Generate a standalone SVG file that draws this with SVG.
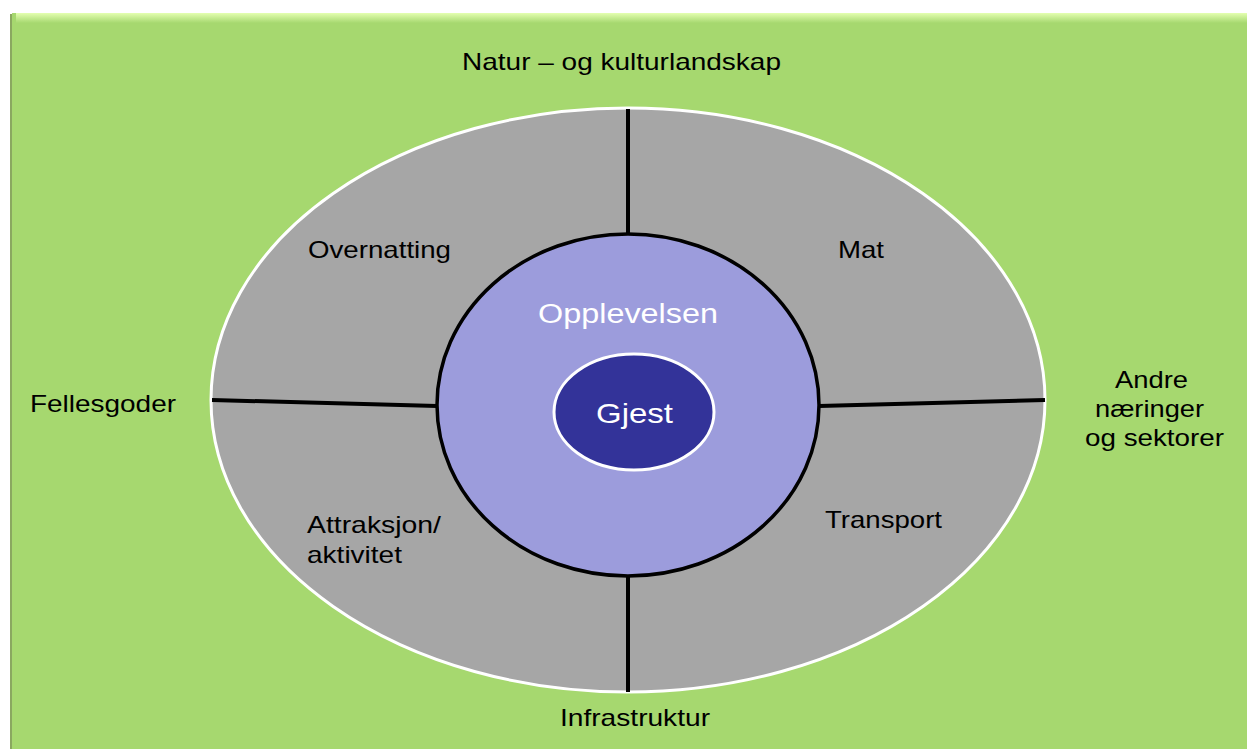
<svg xmlns="http://www.w3.org/2000/svg" width="1247" height="749" viewBox="0 0 1247 749">
<style>
.t{font-family:"Liberation Sans",Arial,sans-serif;font-size:24px;fill:#000}
.c{text-anchor:middle}
.w{fill:#fff}
.ln{stroke:#000;stroke-width:4;fill:none}
</style>
<defs>
<linearGradient id="top" x1="0" y1="0" x2="0" y2="1">
<stop offset="0" stop-color="#e4ffb0"/>
<stop offset="1" stop-color="#a6d86f"/>
</linearGradient>
</defs>
<rect width="1247" height="749" fill="#fff"/>
<g id="background">
<rect x="10" y="14" width="1237" height="735" fill="#8aa860"/>
<rect x="12" y="13" width="1235" height="736" fill="#a6d86f"/>
<rect x="16" y="13" width="1231" height="10" fill="url(#top)"/>
</g>
<g id="outer">
<ellipse cx="628" cy="400" rx="417" ry="292" fill="#a6a6a6" stroke="#fff" stroke-width="3"/>
</g>
<g id="connectors">
<line class="ln" x1="212" y1="400" x2="437" y2="406"/>
<line class="ln" x1="819" y1="406" x2="1045" y2="400"/>
<line class="ln" x1="628" y1="109" x2="628" y2="234"/>
<line class="ln" x1="628" y1="576" x2="628" y2="692"/>
</g>
<g id="opplevelsen">
<ellipse cx="628" cy="405" rx="191" ry="171" fill="#9c9cdc" stroke="#000" stroke-width="3.5"/>
<text class="t w" x="538" y="323" style="font-size:27px" textLength="180" lengthAdjust="spacingAndGlyphs">Opplevelsen</text>
</g>
<g id="gjest">
<ellipse cx="634" cy="412" rx="80" ry="58" fill="#333399" stroke="#fff" stroke-width="3"/>
<text class="t w" x="596" y="423" style="font-size:28px" textLength="77" lengthAdjust="spacingAndGlyphs">Gjest</text>
</g>
<g id="natur"><text class="t" x="462" y="70" textLength="319" lengthAdjust="spacingAndGlyphs">Natur – og kulturlandskap</text></g>
<g id="overnatting"><text class="t" x="308" y="258" textLength="143" lengthAdjust="spacingAndGlyphs">Overnatting</text></g>
<g id="mat"><text class="t" x="838" y="258" textLength="46" lengthAdjust="spacingAndGlyphs">Mat</text></g>
<g id="fellesgoder"><text class="t" x="30" y="412" textLength="146" lengthAdjust="spacingAndGlyphs">Fellesgoder</text></g>
<g id="andre"><text class="t" x="1115" y="388" textLength="73" lengthAdjust="spacingAndGlyphs">Andre</text><text class="t" x="1095" y="417" textLength="109" lengthAdjust="spacingAndGlyphs">næringer</text><text class="t" x="1085" y="446" textLength="139" lengthAdjust="spacingAndGlyphs">og sektorer</text></g>
<g id="attraksjon"><text class="t" x="307" y="533" textLength="134" lengthAdjust="spacingAndGlyphs">Attraksjon/</text><text class="t" x="307" y="563" textLength="95" lengthAdjust="spacingAndGlyphs">aktivitet</text></g>
<g id="transport"><text class="t" x="825" y="528" textLength="117" lengthAdjust="spacingAndGlyphs">Transport</text></g>
<g id="infrastruktur"><text class="t" x="560" y="726" textLength="150" lengthAdjust="spacingAndGlyphs">Infrastruktur</text></g>
</svg>
